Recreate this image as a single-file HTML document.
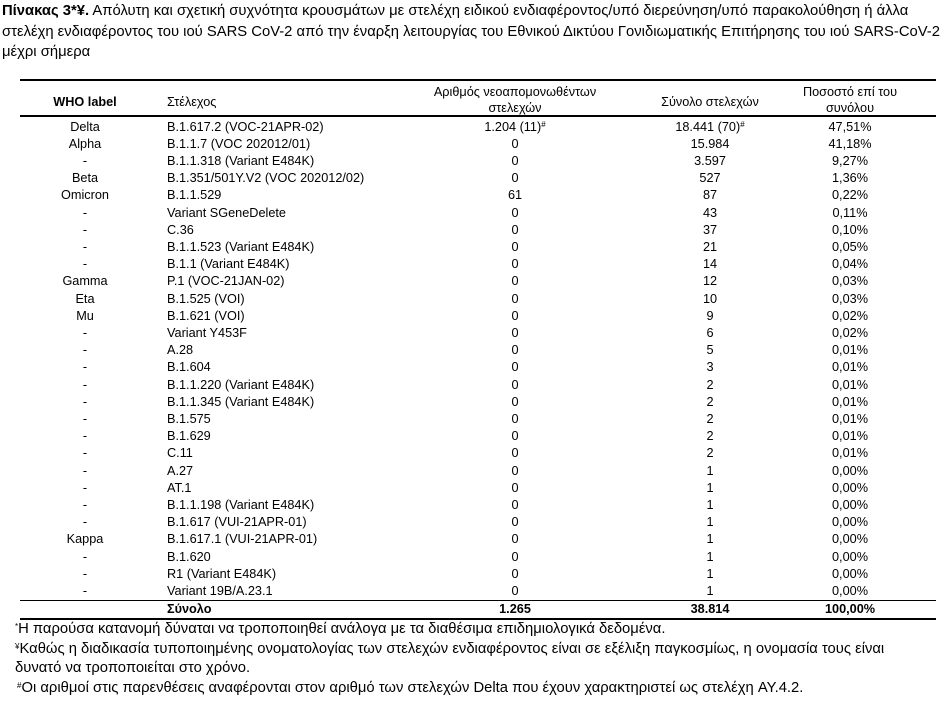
<!DOCTYPE html>
<html><head><meta charset="utf-8"><style>
body{margin:0;width:949px;height:723px;background:#fff;position:relative;overflow:hidden;font-family:"Liberation Sans","DejaVu Sans",sans-serif;color:#000}
.t{position:absolute;left:2px;white-space:nowrap;font-size:14.8px}
.line{position:absolute;left:20px;width:916px;background:#000}
.r{position:absolute;left:0;width:949px;height:17px;font-size:12.7px;line-height:17px;white-space:nowrap}
.r span{position:absolute;top:0}
.c1{left:35px;width:100px;text-align:center}
.c2{left:167px}
.c3{left:415px;width:200px;text-align:center}
.c4{left:610px;width:200px;text-align:center}
.c5{left:770px;width:160px;text-align:center}
.h{position:absolute;font-size:12.7px;line-height:16px;text-align:center;font-weight:normal;white-space:nowrap}
.f{position:absolute;left:15px;white-space:nowrap;font-size:14.8px}
sup{font-size:8px;vertical-align:4px;line-height:0}
</style></head><body>
<div class="t" style="top:3px"><b>Πίνακας 3*¥.</b> Απόλυτη και σχετική συχνότητα κρουσμάτων με στελέχη ειδικού ενδιαφέροντος/υπό διερεύνηση/υπό παρακολούθηση ή άλλα</div>
<div class="t" style="top:24px">στελέχη ενδιαφέροντος του ιού SARS CoV-2 από την έναρξη λειτουργίας του Εθνικού Δικτύου Γονιδιωματικής Επιτήρησης του ιού SARS-CoV-2</div>
<div class="t" style="top:44px">μέχρι σήμερα</div>

<div class="line" style="top:79px;height:2px"></div>
<div class="h" style="left:35px;width:100px;top:94px;font-weight:bold">WHO label</div>
<div class="h" style="left:167px;top:94px">Στέλεχος</div>
<div class="h" style="left:415px;width:200px;top:84px">Αριθμός νεοαπομονωθέντων<br>στελεχών</div>
<div class="h" style="left:610px;width:200px;top:94px">Σύνολο στελεχών</div>
<div class="h" style="left:770px;width:160px;top:84px">Ποσοστό επί του<br>συνόλου</div>
<div class="line" style="top:115px;height:2px"></div>

<div class="r" style="top:119px"><span class="c1">Delta</span><span class="c2">B.1.617.2 (VOC-21APR-02)</span><span class="c3">1.204 (11)<sup>#</sup></span><span class="c4">18.441 (70)<sup>#</sup></span><span class="c5">47,51%</span></div>
<div class="r" style="top:136px"><span class="c1">Alpha</span><span class="c2">B.1.1.7 (VOC 202012/01)</span><span class="c3">0</span><span class="c4">15.984</span><span class="c5">41,18%</span></div>
<div class="r" style="top:153px"><span class="c1">-</span><span class="c2">B.1.1.318 (Variant E484K)</span><span class="c3">0</span><span class="c4">3.597</span><span class="c5">9,27%</span></div>
<div class="r" style="top:170px"><span class="c1">Beta</span><span class="c2">B.1.351/501Y.V2 (VOC 202012/02)</span><span class="c3">0</span><span class="c4">527</span><span class="c5">1,36%</span></div>
<div class="r" style="top:187px"><span class="c1">Omicron</span><span class="c2">B.1.1.529</span><span class="c3">61</span><span class="c4">87</span><span class="c5">0,22%</span></div>
<div class="r" style="top:205px"><span class="c1">-</span><span class="c2">Variant SGeneDelete</span><span class="c3">0</span><span class="c4">43</span><span class="c5">0,11%</span></div>
<div class="r" style="top:222px"><span class="c1">-</span><span class="c2">C.36</span><span class="c3">0</span><span class="c4">37</span><span class="c5">0,10%</span></div>
<div class="r" style="top:239px"><span class="c1">-</span><span class="c2">B.1.1.523 (Variant E484K)</span><span class="c3">0</span><span class="c4">21</span><span class="c5">0,05%</span></div>
<div class="r" style="top:256px"><span class="c1">-</span><span class="c2">B.1.1 (Variant E484K)</span><span class="c3">0</span><span class="c4">14</span><span class="c5">0,04%</span></div>
<div class="r" style="top:273px"><span class="c1">Gamma</span><span class="c2">P.1 (VOC-21JAN-02)</span><span class="c3">0</span><span class="c4">12</span><span class="c5">0,03%</span></div>
<div class="r" style="top:291px"><span class="c1">Eta</span><span class="c2">B.1.525 (VOI)</span><span class="c3">0</span><span class="c4">10</span><span class="c5">0,03%</span></div>
<div class="r" style="top:308px"><span class="c1">Mu</span><span class="c2">B.1.621 (VOI)</span><span class="c3">0</span><span class="c4">9</span><span class="c5">0,02%</span></div>
<div class="r" style="top:325px"><span class="c1">-</span><span class="c2">Variant Y453F</span><span class="c3">0</span><span class="c4">6</span><span class="c5">0,02%</span></div>
<div class="r" style="top:342px"><span class="c1">-</span><span class="c2">A.28</span><span class="c3">0</span><span class="c4">5</span><span class="c5">0,01%</span></div>
<div class="r" style="top:359px"><span class="c1">-</span><span class="c2">B.1.604</span><span class="c3">0</span><span class="c4">3</span><span class="c5">0,01%</span></div>
<div class="r" style="top:377px"><span class="c1">-</span><span class="c2">B.1.1.220 (Variant E484K)</span><span class="c3">0</span><span class="c4">2</span><span class="c5">0,01%</span></div>
<div class="r" style="top:394px"><span class="c1">-</span><span class="c2">B.1.1.345 (Variant E484K)</span><span class="c3">0</span><span class="c4">2</span><span class="c5">0,01%</span></div>
<div class="r" style="top:411px"><span class="c1">-</span><span class="c2">B.1.575</span><span class="c3">0</span><span class="c4">2</span><span class="c5">0,01%</span></div>
<div class="r" style="top:428px"><span class="c1">-</span><span class="c2">B.1.629</span><span class="c3">0</span><span class="c4">2</span><span class="c5">0,01%</span></div>
<div class="r" style="top:445px"><span class="c1">-</span><span class="c2">C.11</span><span class="c3">0</span><span class="c4">2</span><span class="c5">0,01%</span></div>
<div class="r" style="top:463px"><span class="c1">-</span><span class="c2">A.27</span><span class="c3">0</span><span class="c4">1</span><span class="c5">0,00%</span></div>
<div class="r" style="top:480px"><span class="c1">-</span><span class="c2">AT.1</span><span class="c3">0</span><span class="c4">1</span><span class="c5">0,00%</span></div>
<div class="r" style="top:497px"><span class="c1">-</span><span class="c2">B.1.1.198 (Variant E484K)</span><span class="c3">0</span><span class="c4">1</span><span class="c5">0,00%</span></div>
<div class="r" style="top:514px"><span class="c1">-</span><span class="c2">B.1.617 (VUI-21APR-01)</span><span class="c3">0</span><span class="c4">1</span><span class="c5">0,00%</span></div>
<div class="r" style="top:531px"><span class="c1">Kappa</span><span class="c2">B.1.617.1 (VUI-21APR-01)</span><span class="c3">0</span><span class="c4">1</span><span class="c5">0,00%</span></div>
<div class="r" style="top:549px"><span class="c1">-</span><span class="c2">B.1.620</span><span class="c3">0</span><span class="c4">1</span><span class="c5">0,00%</span></div>
<div class="r" style="top:566px"><span class="c1">-</span><span class="c2">R1 (Variant E484K)</span><span class="c3">0</span><span class="c4">1</span><span class="c5">0,00%</span></div>
<div class="r" style="top:583px"><span class="c1">-</span><span class="c2">Variant 19B/A.23.1</span><span class="c3">0</span><span class="c4">1</span><span class="c5">0,00%</span></div>
<div class="line" style="top:600px;height:1px"></div>
<div class="r" style="top:601px;font-weight:bold"><span class="c2">Σύνολο</span><span class="c3">1.265</span><span class="c4">38.814</span><span class="c5">100,00%</span></div>
<div class="line" style="top:618px;height:2px"></div>

<div class="f" style="top:621px"><sup>*</sup>Η παρούσα κατανομή δύναται να τροποποιηθεί ανάλογα με τα διαθέσιμα επιδημιολογικά δεδομένα.</div>
<div class="f" style="top:641px"><sup>¥</sup>Καθώς η διαδικασία τυποποιημένης ονοματολογίας των στελεχών ενδιαφέροντος είναι σε εξέλιξη παγκοσμίως, η ονομασία τους είναι</div>
<div class="f" style="top:660px">δυνατό να τροποποιείται στο χρόνο.</div>
<div class="f" style="top:680px;left:17px"><sup>#</sup>Οι αριθμοί στις παρενθέσεις αναφέρονται στον αριθμό των στελεχών Delta που έχουν χαρακτηριστεί ως στελέχη AY.4.2.</div>
</body></html>
